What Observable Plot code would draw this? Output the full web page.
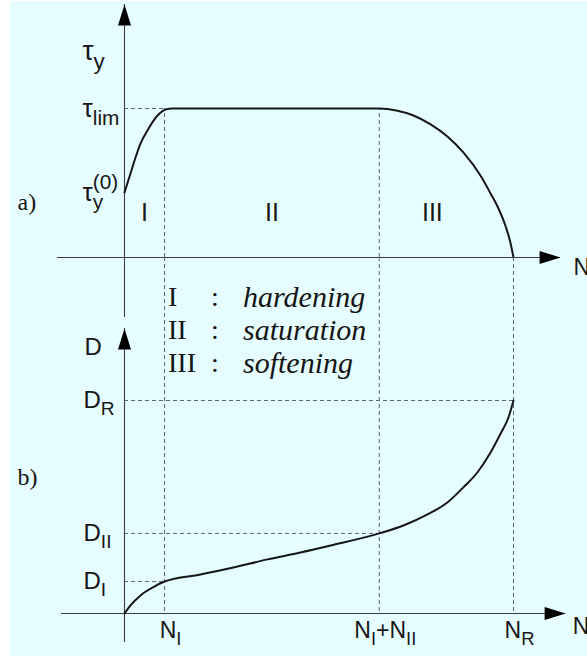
<!DOCTYPE html>
<html>
<head>
<meta charset="utf-8">
<script src="https://cdn.jsdelivr.net/npm/d3@7"></script>
<script src="https://cdn.jsdelivr.net/npm/@observablehq/plot@0.6"></script>
<style>
  body { margin: 0; background: #fff; }
  #chart { position: relative; width: 587px; height: 656px; overflow: hidden; background: #fff; }
  #paper { position: absolute; left: 10px; top: 1px; right: 0; bottom: 0; background: #e6fdff; }
  #chart svg { position: absolute; left: 0; top: 0; overflow: visible; }
  #legend {
    position: absolute; left: 168px; top: 280px;
    font-family: "Liberation Serif", "Times New Roman", serif; font-size: 28px;
    line-height: 33px; color: #151515;
    display: grid; grid-template-columns: 36px 22px auto;
  }
  #legend .num { text-align: left; }
  #legend .colon { text-align: center; }
  #legend .name { font-style: italic; padding-left: 17px; font-size: 30px; }
</style>
</head>
<body>
<div id="chart"><div id="paper"></div></div>
<script>
// Cycle counts, normalised by the number of cycles at rupture N_R
const N_I = 0.103;      // end of hardening
const N_I_II = 0.655;   // end of saturation (N_I + N_II)
const N_R = 1;          // rupture

// Yield stress, normalised by its saturated value tau_lim
const tauLim = 1;
const tau0 = 0.436;

// Damage, normalised by its value at rupture D_R
const D_I = 0.150;
const D_II = 0.376;
const D_R = 1;

// a) yield stress along the life: hardening, plateau, softening
const tauN =   [0, 0.0154, 0.0283, 0.0411, 0.0591, 0.0746, 0.0900, 0.1054, 0.1234,
                N_I_II, 0.699, 0.743, 0.787, 0.830, 0.871, 0.915, 0.941, 0.959, 0.979, 0.992, N_R];
const tauVal = [tau0, 0.564, 0.671, 0.765, 0.852, 0.919, 0.966, 0.993, tauLim,
                tauLim, 0.987, 0.953, 0.893, 0.812, 0.705, 0.550, 0.430, 0.342, 0.215, 0.101, 0];

// b) damage growth along the life
const dmgN =   [0, 0.0154, 0.0411, 0.072, N_I, 0.195, 0.280, 0.368, 0.452, 0.530, N_I_II,
                0.717, 0.779, 0.830, 0.871, 0.907, 0.941, 0.967, 0.987, N_R];
const dmgVal = [0, 0.038, 0.085, 0.122, D_I, 0.183, 0.216, 0.254, 0.286, 0.319, D_II,
                0.413, 0.465, 0.521, 0.592, 0.662, 0.756, 0.845, 0.920, D_R];

// Stages of the life and their names
const stages = ["I", "II", "III"];
const stageNames = ["hardening", "saturation", "softening"];
const stageFrom = [0, N_I, N_I_II];
const stageTo = [N_I, N_I_II, N_R];

// Axis labels
const tauTicks = [{v: tauLim, t: "τ_{lim}"}, {v: tau0, t: "τ_{y}^{(0)}"}];
const dmgTicks = [{v: D_R, t: "D_{R}"}, {v: D_II, t: "D_{II}"}, {v: D_I, t: "D_{I}"}];
const nTicks = [{v: N_I, t: "N_{I}"}, {v: N_I_II, t: "N_{I}+N_{II}"}, {v: N_R, t: "N_{R}"}];

// How far the drawn axes reach, in data units
const topAxisX = [-0.172, 1.121], topAxisY = [-0.403, 1.698];
const botAxisX = [-0.162, 1.134], botAxisY = [-0.136, 1.338];

const tauData = tauN.map((n, i) => ({n, v: tauVal[i]}));
const dmgData = dmgN.map((n, i) => ({n, v: dmgVal[i]}));
const stageData = stages.map((s, i) => ({s, from: stageFrom[i], to: stageTo[i]}));

const ink = "#161616", axisInk = "#3c3c3c", dashInk = "#5a6678";
const dash = {stroke: dashInk, strokeWidth: 1, strokeDasharray: "4,3"};
const sans = "'Liberation Sans', Arial, Helvetica, sans-serif";

// Slender filled arrowhead, tip at the origin, pointing up
const arrowHead = {
  draw(ctx) { ctx.moveTo(0, 0); ctx.lineTo(6.5, 21); ctx.lineTo(-6.5, 21); ctx.closePath(); }
};

function axisMarks(ax, ay) {
  return [
    Plot.ruleY([0], {x1: ax[0], x2: ax[1], stroke: axisInk, strokeWidth: 1.1}),
    Plot.ruleX([0], {y1: ay[0], y2: ay[1], stroke: axisInk, strokeWidth: 1.1}),
    Plot.dot([{x: 0, y: ay[1]}], {x: "x", y: "y", symbol: arrowHead, fill: "#000", stroke: "none", r: 6}),
    Plot.dot([{x: ax[1], y: 0}], {x: "x", y: "y", symbol: arrowHead, fill: "#000", stroke: "none", r: 6, rotate: 90})
  ];
}

const plotA = Plot.plot({
  width: 587, height: 656, margin: 0,
  x: {domain: [0, 1], range: [124, 513], axis: null},
  y: {domain: [0, 1], range: [257, 108], axis: null},
  style: {background: "transparent", overflow: "visible", fontFamily: sans, color: ink},
  marks: [
    Plot.ruleY([tauLim], {x1: 0, x2: N_I, ...dash}),
    Plot.ruleX([N_I, N_I_II], {y1: 0, y2: tauLim, ...dash}),
    ...axisMarks(topAxisX, topAxisY),
    Plot.line(tauData, {x: "n", y: "v", curve: "monotone-x", stroke: ink, strokeWidth: 2}),
    Plot.text(tauTicks, {x: 0, y: "v", text: "t", textAnchor: "start", dx: -42, fontSize: 26, fill: ink}),
    Plot.text(["τ_{y}"], {x: 0, y: topAxisY[1], text: d => d, textAnchor: "start", dx: -42, dy: 47, fontSize: 28, fill: ink}),
    Plot.text(["N"], {x: topAxisX[1], y: 0, text: d => d, textAnchor: "start", dx: 13, dy: 10, fontSize: 23, fill: ink}),
    Plot.text(["a)"], {x: topAxisX[0], y: tau0, text: d => d, textAnchor: "start", dx: -40, dy: 10, fontSize: 24, fontFamily: "'Liberation Serif', serif", fill: ink}),
    Plot.text(stageData.slice(0, 2), {x: d => (d.from + d.to) / 2, y: 0, text: "s", dy: -45, fontSize: 25, fill: ink}),
    Plot.text(stageData.slice(2), {x: d => (d.from + d.to) / 2, y: 0, text: "s", dx: -14, dy: -45, fontSize: 25, fill: ink})
  ]
});

const plotB = Plot.plot({
  width: 587, height: 656, marginTop: 257, marginBottom: 43, marginLeft: 0, marginRight: 0,
  x: {domain: [0, 1], range: [124, 513], axis: null},
  y: {domain: [0, 1], range: [613, 400], axis: null},
  style: {background: "transparent", overflow: "visible", fontFamily: sans, color: ink},
  marks: [
    Plot.ruleX([N_I, N_I_II, N_R], dash),
    Plot.ruleY([D_I], {x1: 0, x2: N_I, ...dash}),
    Plot.ruleY([D_II], {x1: 0, x2: N_I_II, ...dash}),
    Plot.ruleY([D_R], {x1: 0, x2: N_R, ...dash}),
    ...axisMarks(botAxisX, botAxisY),
    Plot.line(dmgData, {x: "n", y: "v", curve: "monotone-x", stroke: ink, strokeWidth: 2}),
    Plot.text(dmgTicks, {x: 0, y: "v", text: "t", textAnchor: "start", dx: -41, fontSize: 24, fill: ink}),
    Plot.text(["D"], {x: 0, y: botAxisY[1], text: d => d, textAnchor: "start", dx: -40, dy: 19, fontSize: 24, fill: ink}),
    Plot.text(nTicks, {x: "v", y: 0, text: "t", dx: 6, dy: 17, fontSize: 23, fill: ink}),
    Plot.text(["N"], {x: botAxisX[1], y: 0, text: d => d, textAnchor: "start", dx: 7, dy: 13, fontSize: 23, fill: ink}),
    Plot.text(["b)"], {x: botAxisX[0], y: D_R, text: d => d, textAnchor: "start", dx: -44, dy: 77, fontSize: 24, fontFamily: "'Liberation Serif', serif", fill: ink})
  ]
});

const chart = document.getElementById("chart");
chart.appendChild(plotA);
chart.appendChild(plotB);

// Stage legend
const legend = document.createElement("div");
legend.id = "legend";
stages.forEach((s, i) => {
  for (const [cls, txt] of [["num", s], ["colon", ":"], ["name", stageNames[i]]]) {
    const el = document.createElement("span");
    el.className = cls; el.textContent = txt;
    legend.appendChild(el);
  }
});
chart.appendChild(legend);

// Turn "_{..}" and "^{..}" into lowered / raised tspans
const SVGNS = "http://www.w3.org/2000/svg";
function typeset(svg) {
  svg.querySelectorAll("text").forEach(t => {
    const src = t.textContent;
    if (!/[_^]\{/.test(src)) return;
    t.textContent = "";
    const fs = parseFloat(getComputedStyle(t).fontSize);
    let shift = 0, prev = null;
    for (const m of src.matchAll(/([_^])\{([^}]*)\}|([^_^]+)/g)) {
      const ts = document.createElementNS(SVGNS, "tspan");
      let target = 0;
      if (m[3] !== undefined) {
        ts.textContent = m[3];
      } else {
        ts.textContent = m[2];
        ts.setAttribute("font-size", (fs * 0.8).toFixed(1));
        target = m[1] === "_" ? fs * 0.3 : -fs * 0.45;
      }
      ts.setAttribute("dy", (target - shift).toFixed(1));
      shift = target;
      t.appendChild(ts);
      if (m[1] === "^" && prev && prev.kind === "_") {
        ts.setAttribute("dx", (-prev.el.getComputedTextLength()).toFixed(1));
      }
      prev = {kind: m[1] || "", el: ts};
    }
  });
}
typeset(plotA);
typeset(plotB);
</script>
</body>
</html>
